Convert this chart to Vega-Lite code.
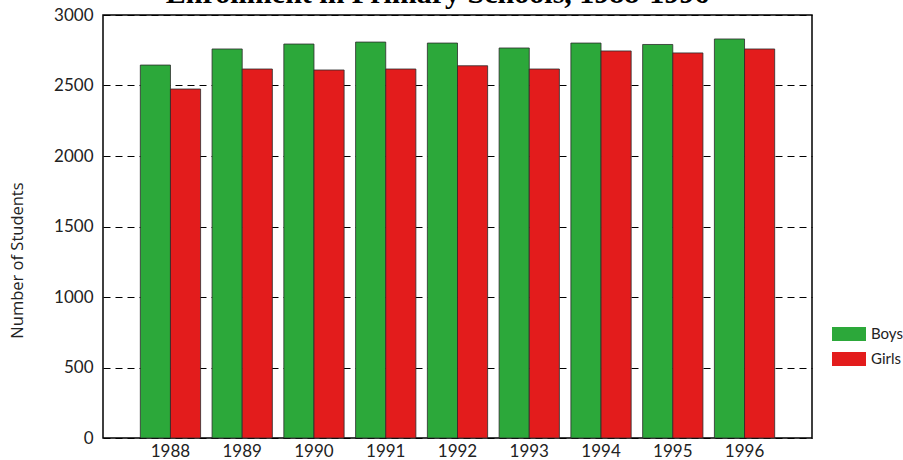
{
  "$schema": "https://vega.github.io/schema/vega-lite/v6.json",
  "width": 709,
  "height": 423,
  "autosize": {"type": "none"},
  "padding": {"left": 103, "top": 15, "right": 91, "bottom": 22},
  "title": {
    "text": "Enrollment in Primary Schools, 1988-1996",
    "font": "Liberation Serif",
    "fontSize": 30,
    "fontWeight": "bold",
    "color": "black",
    "baseline": "alphabetic",
    "frame": "group",
    "offset": -27,
    "dx": -20
  },
  "data": {
    "values": [
      {"year": "1988", "gender": "Boys", "students": 2645},
      {"year": "1988", "gender": "Girls", "students": 2475},
      {"year": "1989", "gender": "Boys", "students": 2759},
      {"year": "1989", "gender": "Girls", "students": 2617},
      {"year": "1990", "gender": "Boys", "students": 2794},
      {"year": "1990", "gender": "Girls", "students": 2610},
      {"year": "1991", "gender": "Boys", "students": 2808},
      {"year": "1991", "gender": "Girls", "students": 2617},
      {"year": "1992", "gender": "Boys", "students": 2801},
      {"year": "1992", "gender": "Girls", "students": 2640},
      {"year": "1993", "gender": "Boys", "students": 2766},
      {"year": "1993", "gender": "Girls", "students": 2617},
      {"year": "1994", "gender": "Boys", "students": 2801},
      {"year": "1994", "gender": "Girls", "students": 2745},
      {"year": "1995", "gender": "Boys", "students": 2791},
      {"year": "1995", "gender": "Girls", "students": 2731},
      {"year": "1996", "gender": "Boys", "students": 2830},
      {"year": "1996", "gender": "Girls", "students": 2759}
    ]
  },
  "mark": {"type": "bar", "stroke": "#2b2b2b", "strokeWidth": 0.8},
  "encoding": {
    "x": {
      "field": "year",
      "type": "nominal",
      "scale": {"paddingInner": 0.16, "paddingOuter": 0.52},
      "axis": {
        "title": null,
        "labelAngle": 0,
        "ticks": false,
        "domain": false,
        "labelFontSize": 17,
        "labelPadding": 5,
        "labelColor": "#222"
      }
    },
    "xOffset": {"field": "gender", "scale": {"paddingInner": 0, "paddingOuter": 0}},
    "y": {
      "field": "students",
      "type": "quantitative",
      "scale": {"domain": [0, 3000], "nice": false},
      "axis": {
        "values": [0, 500, 1000, 1500, 2000, 2500, 3000],
        "format": "d",
        "grid": true,
        "gridDash": [7, 5],
        "gridColor": "black",
        "gridOpacity": 1,
        "gridWidth": 1.2,
        "ticks": false,
        "domain": false,
        "labelFontSize": 17,
        "labelPadding": 10,
        "labelColor": "#222",
        "title": "Number of Students",
        "titleFont": "Open Sans",
        "titleFontSize": 16.5,
        "titleFontWeight": "normal",
        "titleColor": "#222",
        "titleAngle": 270,
        "titleAlign": "center",
        "titleBaseline": "middle",
        "titleX": -86,
        "titleY": 245
      }
    },
    "color": {
      "field": "gender",
      "type": "nominal",
      "scale": {"domain": ["Boys", "Girls"], "range": ["#2ca83a", "#e31c1c"]},
      "legend": {
        "title": null,
        "orient": "none",
        "legendX": 729,
        "legendY": 302,
        "symbolType": "M-1,-0.41h2v0.82h-2z",
        "symbolSize": 1156,
        "symbolStrokeWidth": 0,
        "symbolOpacity": 1,
        "labelFontSize": 15,
        "labelColor": "#222",
        "labelOffset": 5,
        "rowPadding": -3
      }
    }
  },
  "config": {
    "font": "Lato",
    "view": {"stroke": "black", "strokeWidth": 1.5}
  }
}
